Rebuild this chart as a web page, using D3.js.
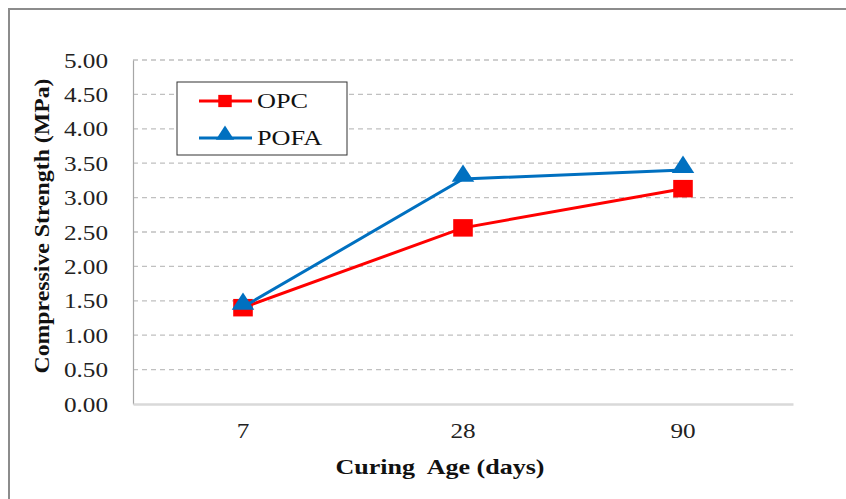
<!DOCTYPE html>
<html>
<head>
<meta charset="utf-8">
<script src="https://cdn.jsdelivr.net/npm/d3@7"></script>
<style>
  body { margin: 0; background: #fff; }
</style>
</head>
<body>
<svg id="chart" width="846" height="499"></svg>
<script>
// chart data
var curingAges = ['7', '28', '90']
var opcValues = [1.40, 2.56, 3.13]
var pofaValues = [1.41, 3.27, 3.40]
var yTicks = [0, 0.5, 1, 1.5, 2, 2.5, 3, 3.5, 4, 4.5, 5]

var FONT = '"Liberation Serif", "Times New Roman", serif'
var STRETCH = 1.2

var svg = d3.select('#chart')

var margin = { left: 133, right: 53, top: 60, bottom: 95 }
var width = 846 - margin.left - margin.right
var height = 499 - margin.top - margin.bottom

// the source picture is a bit wider than tall, so widen text to match
function widen (sel, factor) {
  sel.each(function () {
    var len = this.getComputedTextLength()
    d3.select(this).attr('textLength', len * (factor || STRETCH)).attr('lengthAdjust', 'spacingAndGlyphs')
  })
}

// outer frame (left and top edge only visible)
svg.append('path')
  .attr('d', 'M9,499 V9 H846')
  .attr('fill', 'none')
  .attr('stroke', '#8c8c8c')
  .attr('stroke-width', 2)

var g = svg.append('g')
  .attr('transform', 'translate(' + margin.left + ',' + margin.top + ')')

var x = d3.scaleBand().domain(curingAges).range([0, width])
var y = d3.scaleLinear().domain([0, 5]).range([height, 0])

// dashed gridlines
g.selectAll('.grid')
  .data(yTicks.filter(function (d) { return d > 0 }))
  .enter().append('line')
  .attr('x1', 0)
  .attr('x2', width)
  .attr('y1', function (d) { return y(d) })
  .attr('y2', function (d) { return y(d) })
  .attr('stroke', '#c0c0c0')
  .attr('stroke-width', 1.3)
  .attr('stroke-dasharray', '5,4')

// y axis
var yAxis = d3.axisLeft(y).tickValues(yTicks).tickFormat(d3.format('.2f')).tickSize(0).tickPadding(25)
var ya = g.append('g').call(yAxis)
ya.attr('font-family', null).attr('font-size', null)
ya.select('.domain').attr('stroke', '#a6a6a6').attr('stroke-width', 1.2)
ya.selectAll('text')
  .style('font-family', FONT)
  .style('font-size', '21px')
  .attr('fill', '#222')
  .attr('dy', '0.34em')
  .call(widen)

// x axis
var xAxis = d3.axisBottom(x).tickSize(0).tickPadding(19)
var xa = g.append('g').attr('transform', 'translate(0,' + height + ')').call(xAxis)
xa.attr('font-family', null).attr('font-size', null)
xa.select('.domain').attr('stroke', '#d9d9d9').attr('stroke-width', 2.5)
xa.selectAll('text')
  .style('font-family', FONT)
  .style('font-size', '21px')
  .attr('fill', '#222')
  .call(widen)

// axis titles
svg.append('text')
  .attr('x', 440)
  .attr('y', 474)
  .attr('text-anchor', 'middle')
  .style('font-family', FONT)
  .style('font-size', '22px')
  .style('font-weight', 'bold')
  .style('white-space', 'pre')
  .attr('fill', '#111')
  .text('Curing  Age (days)')
  .attr('textLength', 209)
  .attr('lengthAdjust', 'spacingAndGlyphs')

svg.append('text')
  .attr('transform', 'translate(49,226) rotate(-90)')
  .attr('text-anchor', 'middle')
  .style('font-family', FONT)
  .style('font-size', '22px')
  .style('font-weight', 'bold')
  .attr('fill', '#111')
  .text('Compressive Strength (MPa)')
  .attr('textLength', 295)
  .attr('lengthAdjust', 'spacingAndGlyphs')

var cx = function (d, i) { return x(curingAges[i]) + x.bandwidth() / 2 }
var line = d3.line().x(cx).y(function (d) { return y(d) })

var series = [
  { name: 'OPC', values: opcValues, color: '#ff0000', symbol: d3.symbolSquare, size: 306, legendSize: 150, lift: 0 },
  { name: 'POFA', values: pofaValues, color: '#0070c0', symbol: d3.symbolTriangle, size: 175, legendSize: 120, lift: 3 }
]

series.forEach(function (s) {
  g.append('path')
    .datum(s.values)
    .attr('d', line)
    .attr('fill', 'none')
    .attr('stroke', s.color)
    .attr('stroke-width', 3)

  g.selectAll('.m-' + s.name)
    .data(s.values)
    .enter().append('path')
    .attr('d', d3.symbol().type(s.symbol).size(s.size))
    .attr('transform', function (d, i) {
      return 'translate(' + cx(d, i) + ',' + (y(d) - s.lift) + ') scale(1.12,1)'
    })
    .attr('fill', s.color)
})

// legend
var legend = svg.append('g').attr('transform', 'translate(177,82)')
legend.append('rect')
  .attr('width', 170)
  .attr('height', 73)
  .attr('fill', '#fff')
  .attr('stroke', '#333')
  .attr('stroke-width', 1)

series.forEach(function (s, i) {
  var ly = 19 + i * 37
  legend.append('line')
    .attr('x1', 22).attr('x2', 75)
    .attr('y1', ly).attr('y2', ly)
    .attr('stroke', s.color)
    .attr('stroke-width', 3)
  legend.append('path')
    .attr('d', d3.symbol().type(s.symbol).size(s.legendSize))
    .attr('transform', 'translate(48,' + (ly - s.lift) + ') scale(1.1,1)')
    .attr('fill', s.color)
  legend.append('text')
    .attr('x', 80)
    .attr('y', ly + 7)
    .style('font-family', FONT)
    .style('font-size', '21px')
    .attr('fill', '#111')
    .text(s.name)
    .call(widen, 1.25)
})
</script>
</body>
</html>
